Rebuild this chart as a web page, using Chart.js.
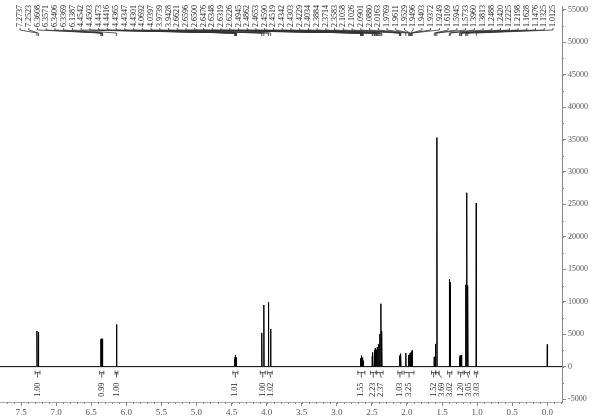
<!DOCTYPE html>
<html>
<head>
<meta charset="utf-8">
<script src="https://cdn.jsdelivr.net/npm/chart.js@4.4.0/dist/chart.umd.min.js"></script>
<style>
html, body { margin: 0; padding: 0; background: #fff; }
#wrap { width: 600px; height: 417px; }
</style>
</head>
<body>
<div id="wrap"><canvas id="nmr" width="600" height="417"></canvas></div>
<script>
// labelled peaks (ppm) and their heights
const shifts = [7.2737, 7.2523, 6.3608, 6.3571, 6.3406, 6.3369, 6.1387,
	4.4542, 4.4503, 4.4473, 4.4416, 4.4365, 4.4347, 4.4301,
	4.0692, 4.0397, 3.9739, 3.9428,
	2.6621, 2.6596, 2.6500, 2.6476, 2.6348, 2.6319, 2.6226,
	2.4945, 2.4862, 2.4653, 2.4590, 2.4519, 2.4342, 2.4303, 2.4229, 2.4034, 2.3884, 2.3714, 2.3583,
	2.1058, 2.1026, 2.0901, 2.0880, 2.0163, 1.9769, 1.9611, 1.9529, 1.9496, 1.9403, 1.9372, 1.9249,
	1.6109, 1.5945, 1.5733, 1.3960, 1.3813,
	1.2488, 1.2420, 1.2225, 1.2198, 1.1628, 1.1476, 1.1325, 1.0125];
const heights = [5500, 5300, 4200, 4300, 4300, 4100, 6500,
	1100, 1500, 1700, 1800, 1500, 1400, 1100,
	5200, 9500, 9900, 5800,
	1100, 1300, 1700, 1600, 1400, 1300, 900,
	1600, 2200, 2500, 2300, 2800, 2600, 2400, 3000, 3500, 5000, 9700, 5500,
	1700, 1600, 2000, 1900, 2100, 1800, 2000, 1900, 2100, 2200, 2300, 2500,
	1500, 3500, 35300, 13500, 13000,
	1500, 1700, 1800, 1600, 12600, 26800, 12500, 25200];

// unlabelled reference peak (TMS)
const extraShifts = [0.0];
const extraHeights = [3400];

// integrals: range in ppm and value
const intFrom = [7.30, 6.38, 6.16, 4.48, 4.09, 3.99, 2.70, 2.52, 2.43, 2.13, 2.04, 1.65, 1.59, 1.42, 1.27, 1.18, 1.04];
const intTo   = [7.23, 6.32, 6.12, 4.41, 4.02, 3.92, 2.60, 2.44, 2.34, 2.07, 1.90, 1.59, 1.54, 1.36, 1.20, 1.11, 0.99];
const intValues = ["1.00", "0.99", "1.00", "1.01", "1.00", "1.02", "1.55", "2.23", "2.37", "1.03", "3.25", "1.52", "3.69", "3.02", "1.20", "3.05", "3.03"];

// axis ticks
const xTicks = [7.5, 7.0, 6.5, 6.0, 5.5, 5.0, 4.5, 4.0, 3.5, 3.0, 2.5, 2.0, 1.5, 1.0, 0.5, 0.0];
const yTicks = [-5000, 0, 5000, 10000, 15000, 20000, 25000, 30000, 35000, 40000, 45000, 50000, 55000];

const xMin = -0.21, xMax = 7.8;
const yMin = -5450, yMax = 55450;
const xMinorStep = 0.1;
const yMinorStep = 2500;

function buildTrace() {
	let peaks = [];
	for (let i = 0; i < shifts.length; i++) peaks.push({s: shifts[i], h: heights[i]});
	for (let i = 0; i < extraShifts.length; i++) peaks.push({s: extraShifts[i], h: extraHeights[i]});
	peaks.sort((a, b) => b.s - a.s);
	let pts = [{x: xMax, y: 0}];
	for (let i = 0; i < peaks.length; i++) {
		let prevGap = i > 0 ? peaks[i-1].s - peaks[i].s : 1;
		let nextGap = i < peaks.length - 1 ? peaks[i].s - peaks[i+1].s : 1;
		let w1 = Math.min(0.004, prevGap / 2);
		let w2 = Math.min(0.004, nextGap / 2);
		pts.push({x: peaks[i].s + w1, y: 0});
		pts.push({x: peaks[i].s, y: peaks[i].h});
		pts.push({x: peaks[i].s - w2, y: 0});
	}
	pts.push({x: xMin, y: 0});
	return pts;
}

const labelFont = '8px "Liberation Serif", "DejaVu Serif", serif';

const annotations = {
	id: 'annotations',
	afterDraw(chart) {
		const ctx = chart.ctx;
		const xs = chart.scales.x;
		const ys = chart.scales.y;
		const area = chart.chartArea;
		ctx.save();

		// minor ticks on both axes
		ctx.strokeStyle = '#888';
		ctx.lineWidth = 1;
		ctx.beginPath();
		for (let k = Math.ceil(xMin / xMinorStep); k * xMinorStep <= xMax; k++) {
			let px = Math.round(xs.getPixelForValue(k * xMinorStep)) + 0.5;
			ctx.moveTo(px, area.bottom);
			ctx.lineTo(px, area.bottom + 2);
		}
		for (let k = Math.ceil(yMin / yMinorStep); k * yMinorStep <= yMax; k++) {
			let py = Math.round(ys.getPixelForValue(k * yMinorStep)) + 0.5;
			ctx.moveTo(area.right, py);
			ctx.lineTo(area.right + 2, py);
		}
		ctx.stroke();

		ctx.font = labelFont;
		ctx.fillStyle = '#222';
		ctx.strokeStyle = '#333';
		ctx.lineWidth = 0.8;

		// peak labels along the top
		const first = 20, last = 553;
		const step = (last - first) / (shifts.length - 1);
		for (let i = 0; i < shifts.length; i++) {
			let lx = first + i * step;
			let px = xs.getPixelForValue(shifts[i]);
			ctx.save();
			ctx.translate(lx, 27);
			ctx.rotate(-Math.PI / 2);
			ctx.textAlign = 'left';
			ctx.textBaseline = 'middle';
			ctx.fillText(shifts[i].toFixed(4), 0, 0);
			ctx.restore();
			ctx.beginPath();
			ctx.moveTo(lx, 28);
			ctx.lineTo(lx, 30);
			ctx.lineTo(px, 33);
			ctx.lineTo(px, 36);
			ctx.stroke();
		}

		// integrals under the baseline
		const base = ys.getPixelForValue(0);
		let prevLabel = -100;
		for (let i = 0; i < intValues.length; i++) {
			let x1 = xs.getPixelForValue(intFrom[i]);
			let x2 = xs.getPixelForValue(intTo[i]);
			let cx = (x1 + x2) / 2;
			let tx = Math.max(cx, prevLabel + 8);
			prevLabel = tx;
			let yb = base + 6;
			ctx.beginPath();
			ctx.moveTo(x1, yb - 2); ctx.lineTo(x1, yb + 2);
			ctx.moveTo(x1, yb); ctx.lineTo(x2, yb);
			ctx.moveTo(x2, yb - 2); ctx.lineTo(x2, yb + 2);
			ctx.moveTo(cx, yb); ctx.lineTo(tx, yb + 5);
			ctx.stroke();
			ctx.save();
			ctx.translate(tx, base + 30);
			ctx.rotate(-Math.PI / 2);
			ctx.textAlign = 'left';
			ctx.textBaseline = 'middle';
			ctx.fillText(intValues[i], 0, 0);
			ctx.restore();
		}
		ctx.restore();
	}
};

const canvas = document.getElementById('nmr');
const chart = new Chart(canvas.getContext('2d'), {
	type: 'line',
	data: {
		datasets: [{
			data: buildTrace(),
			borderColor: '#000',
			borderWidth: 1,
			pointRadius: 0,
			tension: 0,
			fill: false
		}]
	},
	options: {
		responsive: false,
		animation: false,
		layout: { padding: 0 },
		plugins: {
			legend: { display: false },
			tooltip: { enabled: false }
		},
		scales: {
			x: {
				type: 'linear',
				reverse: true,
				min: xMin,
				max: xMax,
				afterFit(s) { s.height = 15; },
				afterBuildTicks(s) { s.ticks = xTicks.map(v => ({value: v})); },
				ticks: {
					autoSkip: false,
					maxRotation: 0,
					padding: 1,
					color: '#555',
					font: { family: '"Liberation Serif", serif', size: 9 },
					callback: v => Number(v).toFixed(1)
				},
				grid: { drawOnChartArea: false, tickLength: 4, color: '#888' },
				border: { color: '#aaa' }
			},
			y: {
				position: 'right',
				min: yMin,
				max: yMax,
				afterFit(s) { s.width = 38; },
				afterBuildTicks(s) { s.ticks = yTicks.map(v => ({value: v})); },
				ticks: {
					autoSkip: false,
					padding: 2,
					color: '#555',
					font: { family: '"Liberation Serif", serif', size: 8 },
					callback: v => String(v)
				},
				grid: { drawOnChartArea: false, tickLength: 4, color: '#888' },
				border: { color: '#888' }
			}
		}
	},
	plugins: [annotations]
});
</script>
</body>
</html>
